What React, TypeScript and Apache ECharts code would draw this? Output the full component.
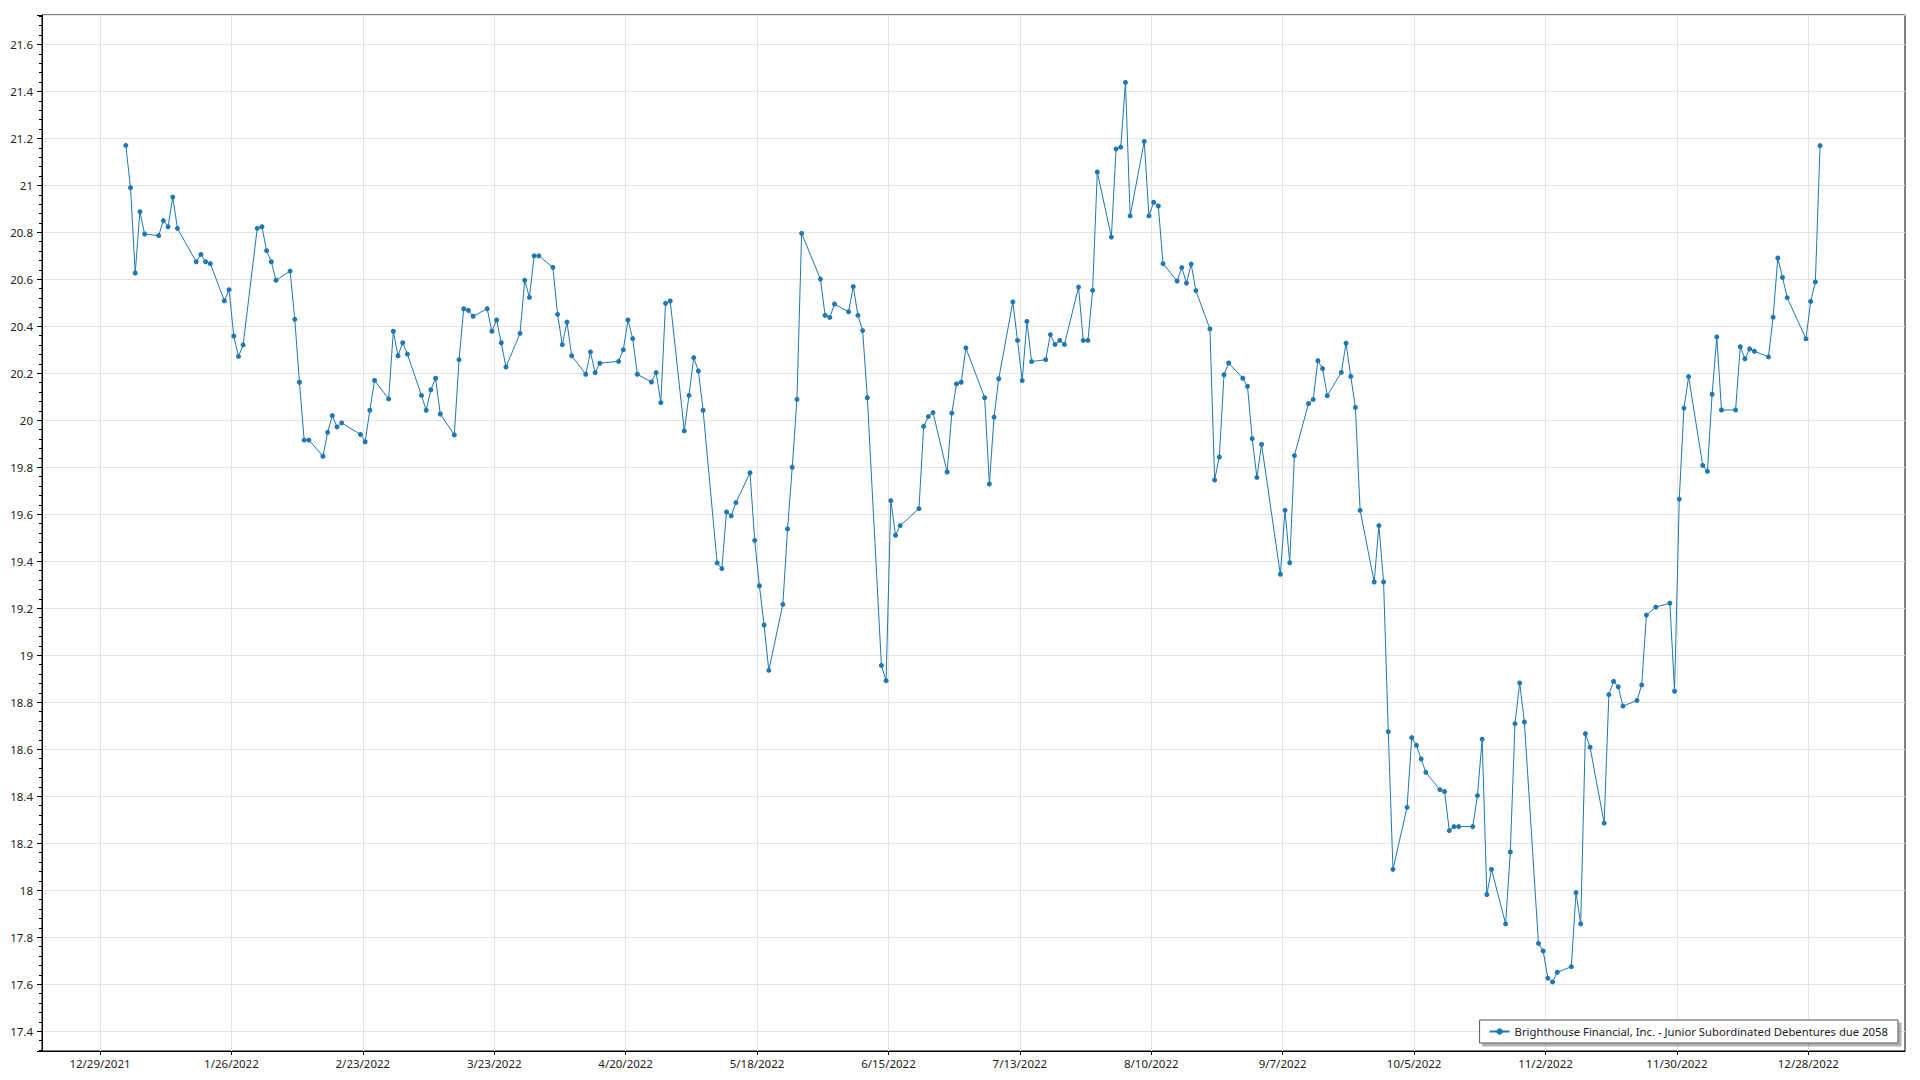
import React, { useEffect, useRef } from "react";
import * as echarts from "echarts";

const seriesName = "Brighthouse Financial, Inc. - Junior Subordinated Debentures due 2058";

const tradeDates = [
  "2022-01-03","2022-01-04","2022-01-05","2022-01-06","2022-01-07","2022-01-10","2022-01-11","2022-01-12","2022-01-13","2022-01-14",
  "2022-01-18","2022-01-19","2022-01-20","2022-01-21","2022-01-24","2022-01-25","2022-01-26","2022-01-27","2022-01-28","2022-01-31",
  "2022-02-01","2022-02-02","2022-02-03","2022-02-04","2022-02-07","2022-02-08","2022-02-09","2022-02-10","2022-02-11","2022-02-14",
  "2022-02-15","2022-02-16","2022-02-17","2022-02-18","2022-02-22","2022-02-23","2022-02-24","2022-02-25","2022-02-28","2022-03-01",
  "2022-03-02","2022-03-03","2022-03-04","2022-03-07","2022-03-08","2022-03-09","2022-03-10","2022-03-11","2022-03-14","2022-03-15",
  "2022-03-16","2022-03-17","2022-03-18","2022-03-21","2022-03-22","2022-03-23","2022-03-24","2022-03-25","2022-03-28","2022-03-29",
  "2022-03-30","2022-03-31","2022-04-01","2022-04-04","2022-04-05","2022-04-06","2022-04-07","2022-04-08","2022-04-11","2022-04-12",
  "2022-04-13","2022-04-14","2022-04-18","2022-04-19","2022-04-20","2022-04-21","2022-04-22","2022-04-25","2022-04-26","2022-04-27",
  "2022-04-28","2022-04-29","2022-05-02","2022-05-03","2022-05-04","2022-05-05","2022-05-06","2022-05-09","2022-05-10","2022-05-11",
  "2022-05-12","2022-05-13","2022-05-16","2022-05-17","2022-05-18","2022-05-19","2022-05-20","2022-05-23","2022-05-24","2022-05-25",
  "2022-05-26","2022-05-27","2022-05-31","2022-06-01","2022-06-02","2022-06-03","2022-06-06","2022-06-07","2022-06-08","2022-06-09",
  "2022-06-10","2022-06-13","2022-06-14","2022-06-15","2022-06-16","2022-06-17","2022-06-21","2022-06-22","2022-06-23","2022-06-24",
  "2022-06-27","2022-06-28","2022-06-29","2022-06-30","2022-07-01","2022-07-05","2022-07-06","2022-07-07","2022-07-08","2022-07-11",
  "2022-07-12","2022-07-13","2022-07-14","2022-07-15","2022-07-18","2022-07-19","2022-07-20","2022-07-21","2022-07-22","2022-07-25",
  "2022-07-26","2022-07-27","2022-07-28","2022-07-29","2022-08-01","2022-08-02","2022-08-03","2022-08-04","2022-08-05","2022-08-08",
  "2022-08-09","2022-08-10","2022-08-11","2022-08-12","2022-08-15","2022-08-16","2022-08-17","2022-08-18","2022-08-19","2022-08-22",
  "2022-08-23","2022-08-24","2022-08-25","2022-08-26","2022-08-29","2022-08-30","2022-08-31","2022-09-01","2022-09-02","2022-09-06",
  "2022-09-07","2022-09-08","2022-09-09","2022-09-12","2022-09-13","2022-09-14","2022-09-15","2022-09-16","2022-09-19","2022-09-20",
  "2022-09-21","2022-09-22","2022-09-23","2022-09-26","2022-09-27","2022-09-28","2022-09-29","2022-09-30","2022-10-03","2022-10-04",
  "2022-10-05","2022-10-06","2022-10-07","2022-10-10","2022-10-11","2022-10-12","2022-10-13","2022-10-14","2022-10-17","2022-10-18",
  "2022-10-19","2022-10-20","2022-10-21","2022-10-24","2022-10-25","2022-10-26","2022-10-27","2022-10-28","2022-10-31","2022-11-01",
  "2022-11-02","2022-11-03","2022-11-04","2022-11-07","2022-11-08","2022-11-09","2022-11-10","2022-11-11","2022-11-14","2022-11-15",
  "2022-11-16","2022-11-17","2022-11-18","2022-11-21","2022-11-22","2022-11-23","2022-11-25","2022-11-28","2022-11-29","2022-11-30",
  "2022-12-01","2022-12-02","2022-12-05","2022-12-06","2022-12-07","2022-12-08","2022-12-09","2022-12-12","2022-12-13","2022-12-14",
  "2022-12-15","2022-12-16","2022-12-19","2022-12-20","2022-12-21","2022-12-22","2022-12-23","2022-12-27","2022-12-28","2022-12-29",
  "2022-12-30"
];

const prices = [
  21.17, 20.99, 20.627, 20.888, 20.793, 20.786, 20.85, 20.824, 20.95, 20.817,
  20.675, 20.706, 20.675, 20.667, 20.509, 20.556, 20.359, 20.272, 20.321, 20.817,
  20.824, 20.722, 20.675, 20.596, 20.635, 20.43, 20.162, 19.916, 19.916, 19.847,
  19.949, 20.02, 19.972, 19.989, 19.94, 19.909, 20.043, 20.17, 20.091, 20.379,
  20.275, 20.33, 20.282, 20.106, 20.043, 20.13, 20.179, 20.027, 19.938, 20.258,
  20.475, 20.468, 20.443, 20.475, 20.379, 20.427, 20.33, 20.227, 20.37, 20.596,
  20.523, 20.7, 20.7, 20.651, 20.451, 20.322, 20.418, 20.275, 20.196, 20.291,
  20.203, 20.243, 20.251, 20.3, 20.427, 20.348, 20.196, 20.163, 20.203, 20.075,
  20.498, 20.508, 19.955, 20.106, 20.267, 20.21, 20.043, 19.393, 19.369, 19.61,
  19.594, 19.65, 19.777, 19.489, 19.296, 19.129, 18.936, 19.217, 19.538, 19.8,
  20.089, 20.796, 20.601, 20.447, 20.438, 20.495, 20.462, 20.569, 20.447, 20.382,
  20.096, 18.957, 18.892, 19.658, 19.511, 19.552, 19.624, 19.974, 20.016, 20.033,
  19.78, 20.031, 20.155, 20.162, 20.308, 20.096, 19.729, 20.014, 20.177, 20.504,
  20.34, 20.169, 20.421, 20.25, 20.258, 20.365, 20.323, 20.34, 20.323, 20.567,
  20.34, 20.34, 20.553, 21.057, 20.78, 21.155, 21.163, 21.438, 20.87, 21.187,
  20.87, 20.928, 20.912, 20.667, 20.593, 20.65, 20.584, 20.665, 20.552, 20.389,
  19.746, 19.844, 20.194, 20.244, 20.179, 20.145, 19.922, 19.757, 19.898, 19.345,
  19.617, 19.394, 19.85, 20.071, 20.089, 20.254, 20.22, 20.105, 20.204, 20.328,
  20.187, 20.055, 19.617, 19.312, 19.552, 19.312, 18.675, 18.089, 18.353, 18.65,
  18.617, 18.559, 18.502, 18.428, 18.42, 18.254, 18.271, 18.271, 18.271, 18.403,
  18.643, 17.982, 18.089, 17.857, 18.163, 18.709, 18.882, 18.716, 17.774, 17.742,
  17.626, 17.61, 17.651, 17.675, 17.99, 17.857, 18.667, 18.609, 18.286, 18.833,
  18.889, 18.866, 18.784, 18.808, 18.874, 19.171, 19.205, 19.222, 18.847, 19.665,
  20.052, 20.186, 19.808, 19.783, 20.111, 20.355, 20.044, 20.044, 20.313, 20.262,
  20.304, 20.294, 20.27, 20.439, 20.691, 20.608, 20.522, 20.347, 20.506, 20.589,
  21.169
];

const xTickDates = [
  "2021-12-29","2022-01-26","2022-02-23","2022-03-23","2022-04-20","2022-05-18","2022-06-15",
  "2022-07-13","2022-08-10","2022-09-07","2022-10-05","2022-11-02","2022-11-30","2022-12-28"
];

const xAxisMinDate = "2021-12-16T15:22:00Z";
const xAxisMaxDate = "2023-01-17T14:24:00Z";
const yAxisMin = 17.316;
const yAxisMax = 21.725;

const FONT = '"Noto Sans", "Open Sans", sans-serif';
const LINE_COLOR = "#1f77b4";
const HOUR = 3600 * 1000;

function toTs(s: string): number {
  const [y, m, d] = s.split("-").map(Number);
  return Date.UTC(y, m - 1, d);
}

function fmtDate(v: number): string {
  const dt = new Date(v);
  return `${dt.getUTCMonth() + 1}/${dt.getUTCDate()}/${dt.getUTCFullYear()}`;
}

export default function App() {
  const ref = useRef<HTMLDivElement>(null);

  useEffect(() => {
    if (!ref.current) return;
    const chart = echarts.init(ref.current, undefined, { renderer: "svg" });
    const tickValues = xTickDates.map(toTs);
    const data = tradeDates.map((d, i) => [toTs(d) + 12 * HOUR, prices[i]]);

    chart.setOption({
      animation: false,
      backgroundColor: "#ffffff",
      textStyle: { fontFamily: FONT },
      grid: {
        left: 42,
        right: 15,
        top: 15,
        bottom: 29,
        show: true,
        borderColor: "#000000",
        borderWidth: 1,
        backgroundColor: "#ffffff",
        containLabel: false,
      },
      legend: {
        show: true,
        right: 22,
        bottom: 37,
        orient: "horizontal",
        backgroundColor: "#ffffff",
        borderColor: "#555555",
        borderWidth: 1,
        borderRadius: 0,
        padding: [6, 10, 6, 9],
        itemWidth: 20,
        itemHeight: 8,
        itemGap: 0,
        shadowColor: "rgba(0,0,0,0.3)",
        shadowBlur: 0,
        shadowOffsetX: 3,
        shadowOffsetY: 3,
        textStyle: { fontSize: 11.3, color: "#222222", fontFamily: FONT },
        data: [{ name: seriesName }],
      },
      xAxis: {
        type: "value",
        min: Date.parse(xAxisMinDate),
        max: Date.parse(xAxisMaxDate),
        axisLine: { show: true, onZero: false, lineStyle: { color: "#000000", width: 1 } },
        axisTick: { show: true, length: 4, customValues: tickValues, lineStyle: { color: "#000000" } },
        axisLabel: {
          show: true,
          customValues: tickValues,
          formatter: (v: number) => fmtDate(v),
          color: "#222222",
          fontSize: 11.5,
          fontFamily: FONT,
          margin: 6,
          showMinLabel: true,
          showMaxLabel: true,
          hideOverlap: false,
        },
        splitLine: { show: true, lineStyle: { color: "#e4e4e4", width: 1 } },
        minorTick: { show: false },
      },
      yAxis: {
        type: "value",
        min: yAxisMin,
        max: yAxisMax,
        splitNumber: 22,
        axisLine: { show: true, lineStyle: { color: "#000000", width: 1 } },
        axisTick: { show: true, length: 5, lineStyle: { color: "#000000" } },
        minorTick: { show: true, splitNumber: 5, length: 3, lineStyle: { color: "#000000" } },
        axisLabel: {
          show: true,
          showMinLabel: false,
          showMaxLabel: false,
          color: "#222222",
          fontSize: 11.5,
          fontFamily: FONT,
          margin: 9,
          formatter: (v: number) => String(parseFloat(v.toFixed(2))),
        },
        splitLine: { show: true, lineStyle: { color: "#e4e4e4", width: 1 } },
      },
      series: [
        {
          type: "line",
          name: seriesName,
          data,
          symbol: "circle",
          symbolSize: 5,
          showSymbol: true,
          showAllSymbol: true,
          lineStyle: { width: 1, color: LINE_COLOR },
          itemStyle: { color: LINE_COLOR },
          emphasis: { disabled: true },
        },
      ],
    });

    return () => chart.dispose();
  }, []);

  return (
    <div
      ref={ref}
      style={{ position: "fixed", left: 0, top: 0, width: 1920, height: 1080, background: "#ffffff" }}
    />
  );
}
